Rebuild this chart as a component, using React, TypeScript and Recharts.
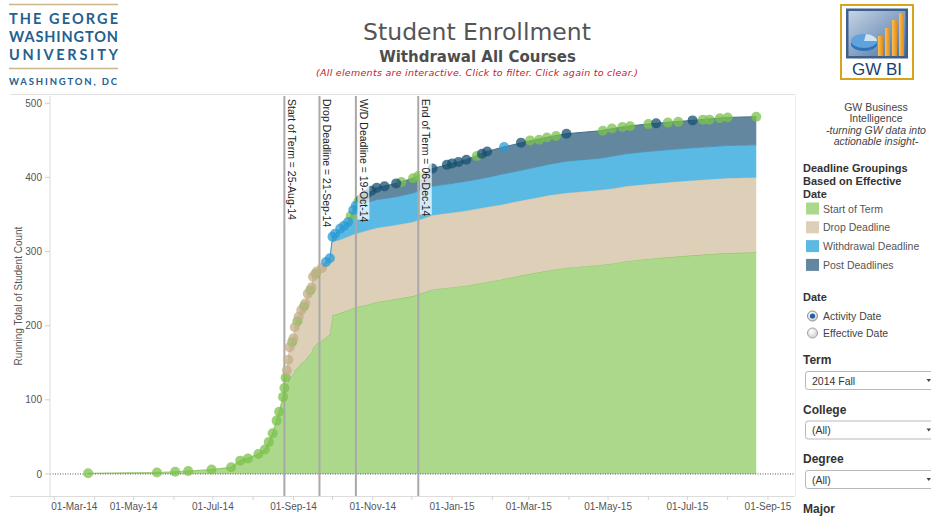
import React from "react";
import { ComposedChart, Area, Scatter, XAxis, YAxis, ReferenceLine } from "recharts";

// activity dates where the stacked running totals change
const areaDates = [
  "2014-03-27", "2014-05-19", "2014-06-02", "2014-06-12", "2014-06-30", "2014-07-15", "2014-07-22", "2014-07-28",
  "2014-08-05", "2014-08-10", "2014-08-13", "2014-08-16", "2014-08-19", "2014-08-21", "2014-08-24", "2014-08-25",
  "2014-08-27", "2014-08-28", "2014-08-29", "2014-09-01", "2014-09-02", "2014-09-05", "2014-09-07", "2014-09-10",
  "2014-09-12", "2014-09-15", "2014-09-16", "2014-09-19", "2014-09-23", "2014-09-26", "2014-09-29", "2014-10-01",
  "2014-10-07", "2014-10-13", "2014-10-17", "2014-10-21", "2014-10-27", "2014-11-04", "2014-11-19", "2014-12-02",
  "2014-12-17", "2015-01-12", "2015-01-28", "2015-02-07", "2015-02-24", "2015-03-17", "2015-03-30", "2015-04-25",
  "2015-05-05", "2015-05-15", "2015-05-31", "2015-06-20", "2015-07-05", "2015-07-31", "2015-08-23",
];

// running totals per deadline grouping (null = grouping not started yet)
const startOfTerm = [
  1, 2, 3, 4, 6, 9, 18, 21, 27, 33, 43, 55, 72, 84, 104, 116,
  120, 126, 129, 135, 140, 145, 149, 153, 158, 164, 170, 176, 180, 184, 188, 214,
  217, 221, 224, 226, 228, 232, 236, 240, 249, 254, 259, 262, 268, 275, 278, 282,
  284, 287, 290, 293, 295, 298, 299,
];
const dropDeadline = [
  null, null, null, null, null, null, null, null, null, null, null, null, null, null, 0, 2,
  20, 28, 42, 48, 58, 67, 72, 77, 85, 88, 96, 97, 98, 99, 99, 99,
  99, 99, 99, 99, 100, 100, 100, 100, 100, 101, 101, 101, 101, 101, 101, 101,
  101, 101, 101, 101, 101, 101, 101,
];
const withdrawalDeadline = [
  null, null, null, null, null, null, null, null, null, null, null, null, null, null, null, null,
  null, null, null, null, null, null, null, null, null, null, null, null, 0, 3, 4, 7,
  15, 20, 33, 37, 38, 38, 38, 39, 39, 40, 40, 41, 41, 42, 43, 43,
  44, 44, 44, 44, 44, 44, 44,
];
const postDeadlines = [
  null, null, null, null, null, null, null, null, null, null, null, null, null, null, null, null,
  null, null, null, null, null, null, null, null, null, null, null, null, null, null, null, null,
  null, null, 0, 6, 11, 16, 18, 20, 24, 29, 35, 36, 37, 37, 37, 37,
  37, 37, 37, 37, 37, 38, 38,
];

// circles on the running total line, coloured by grouping
const dotDates = [
  "2014-03-27", "2014-05-19", "2014-06-02", "2014-06-12", "2014-06-30", "2014-07-15", "2014-07-22", "2014-07-28",
  "2014-08-05", "2014-08-10", "2014-08-13", "2014-08-16", "2014-08-19", "2014-08-21", "2014-08-24", "2014-08-25",
  "2014-08-26", "2014-08-31", "2014-09-04", "2014-09-09", "2014-09-14", "2014-09-18",
  "2014-08-27", "2014-08-28", "2014-08-29", "2014-09-01", "2014-09-02", "2014-09-05", "2014-09-07", "2014-09-10",
  "2014-09-12", "2014-09-15", "2014-09-16", "2014-09-19", "2014-09-23",
  "2014-09-26", "2014-09-29", "2014-10-01", "2014-10-03", "2014-10-07", "2014-10-10", "2014-10-13", "2014-10-17", "2014-10-19",
  "2014-10-15", "2014-10-21",
  "2014-10-23", "2014-10-25", "2014-10-27", "2014-10-31", "2014-11-04", "2014-11-10", "2014-11-19",
  "2014-11-23", "2014-12-02", "2014-12-06",
  "2014-12-17", "2014-12-28", "2015-01-01", "2015-01-06", "2015-01-12",
  "2015-01-20", "2015-01-24", "2015-01-28", "2015-02-10", "2015-02-23",
  "2015-03-02", "2015-03-09", "2015-03-15", "2015-03-22", "2015-03-30",
  "2015-04-27", "2015-05-04", "2015-05-12", "2015-05-18", "2015-06-01", "2015-06-07",
  "2015-06-16", "2015-06-24", "2015-07-05", "2015-07-13", "2015-07-18", "2015-07-26", "2015-08-01", "2015-08-23",
];
const dotTotals = [
  1, 2, 3, 4, 6, 9, 18, 21,
  27, 33, 43, 55, 72, 84, 104, 116,
  130, 178, 206, 226, 248, 270,
  140, 154, 171, 183, 198, 212, 221, 230,
  243, 252, 266, 273, 278,
  286, 291, 320, 324, 331, 335, 340, 356, 362,
  348, 368,
  371, 374, 377, 382, 386, 388, 392,
  394, 399, 402,
  412, 417, 419, 421, 424,
  429, 432, 435, 441, 447,
  450, 451, 454, 456, 459,
  463, 466, 468, 469, 472, 473,
  474, 475, 477, 478, 478, 480, 481, 482,
];
// 0 start of term, 1 drop, 2 withdrawal, 3 post deadlines
const dotGroups = [
  0, 0, 0, 0, 0, 0, 0, 0,
  0, 0, 0, 0, 0, 0, 0, 0,
  0, 0, 0, 0, 0, 0,
  1, 1, 1, 1, 1, 1, 1, 1,
  1, 1, 1, 1, 1,
  2, 2, 2, 2, 2, 2, 2, 2, 2,
  0, 0,
  3, 3, 3, 3, 3, 3, 3,
  0, 0, 0,
  3, 3, 3, 3, 3,
  0, 3, 3, 2, 3,
  0, 0, 0, 0, 3,
  0, 0, 0, 0, 0, 3,
  0, 0, 3, 0, 0, 0, 0, 0,
];

const deadlineDates = ["2014-08-25", "2014-09-21", "2014-10-19", "2014-12-06"];
const deadlineLabels = [
  "Start of Term = 25-Aug-14",
  "Drop Deadline = 21-Sep-14",
  "W/D Deadline = 19-Oct-14",
  "End of Term = 06-Dec-14",
];
const yTicks = [0, 100, 200, 300, 400, 500];
const groupNames = ["Start of Term", "Drop Deadline", "Withdrawal Deadline", "Post Deadlines"];

const FONT = "'Liberation Sans', Arial, sans-serif";
const TITLE_FONT = "'DejaVu Sans', Verdana, sans-serif";
const areaFill = ["#acd88b", "#ddcfb8", "#5bbae3", "#62879f"];
const areaEdge = ["#96c86f", "#d3c3a7", "#3d9dcf", "#466f8a"];
const dotFill = ["#7bc24b", "#c3ae89", "#2b9bd1", "#175070"];

const BASE = Date.UTC(2014, 2, 1);
const DAY = 86400000;
const MONTHS = ["Jan", "Feb", "Mar", "Apr", "May", "Jun", "Jul", "Aug", "Sep", "Oct", "Nov", "Dec"];

function toDay(s: string) {
  const [y, m, d] = s.split("-").map(Number);
  return Math.round((Date.UTC(y, m - 1, d) - BASE) / DAY);
}

function fmtDay(day: number) {
  const dt = new Date(BASE + day * DAY);
  const dd = String(dt.getUTCDate()).padStart(2, "0");
  return `${dd}-${MONTHS[dt.getUTCMonth()]}-${String(dt.getUTCFullYear()).slice(2)}`;
}

const monthTicks: number[] = [];
for (let i = 0; i <= 18; i++) monthTicks.push(Math.round((Date.UTC(2014, 2 + i, 1) - BASE) / DAY));

const rows = areaDates.map((d, i) => ({
  day: toDay(d),
  sot: startOfTerm[i],
  drop: dropDeadline[i],
  wd: withdrawalDeadline[i],
  post: postDeadlines[i],
}));

const dots = dotDates.map((d, i) => ({ day: toDay(d), total: dotTotals[i], g: dotGroups[i] }));
const dotSets = [0, 1, 2, 3].map((g) => dots.filter((p) => p.g === g));

function XTick(props: any) {
  const { x, y, payload, index } = props;
  if (index % 2 !== 0) return null;
  const first = index === 0;
  return (
    <text x={first ? x - 3 : x} y={y} dy="0.71em" textAnchor={first ? "start" : "middle"}
      fontSize={10} fontFamily={FONT} fill="#555">
      {fmtDay(payload.value)}
    </text>
  );
}

function DeadlineLabel({ viewBox, text }: any) {
  const x = viewBox.x;
  const y = viewBox.y;
  const len = text.length * 4.9 + 5;
  return (
    <g>
      <rect x={x + 1.5} y={y + 1} width={12} height={len} fill="#fff" fillOpacity={0.72} />
      <text transform={`translate(${x + 4},${y + 3}) rotate(90)`} fontSize={10.5} fontFamily={FONT} fill="#222">
        {text}
      </text>
    </g>
  );
}

const dotShape = (color: string) => (p: any) =>
  <circle cx={p.cx} cy={p.cy} r={5} fill={color} fillOpacity={0.75} />;

function Decor() {
  return (
    <svg width={931} height={519} style={{ position: "absolute", left: 0, top: 0 }}>
      <defs>
        <linearGradient id="biBg" x1="0" y1="0" x2="1" y2="1">
          <stop offset="0%" stopColor="#c4d4e6" />
          <stop offset="100%" stopColor="#4d72a0" />
        </linearGradient>
        <linearGradient id="biBar" x1="0" y1="0" x2="1" y2="0">
          <stop offset="0%" stopColor="#f7c15a" />
          <stop offset="100%" stopColor="#e58a14" />
        </linearGradient>
        <radialGradient id="radioOff" cx="0.4" cy="0.35" r="0.7">
          <stop offset="0%" stopColor="#ffffff" />
          <stop offset="100%" stopColor="#cfcfcf" />
        </radialGradient>
      </defs>

      {/* university logo */}
      <line x1={9} x2={118} y1={4.5} y2={4.5} stroke="#c9b68c" strokeWidth={1.5} />
      <g fontFamily="Lato, 'Open Sans', sans-serif" fontWeight={700} fill="#24608e">
        <text x={9} y={23.5} fontSize={14.5} textLength={109} lengthAdjust="spacing">THE GEORGE</text>
        <text x={9} y={41.5} fontSize={14.5} textLength={109} lengthAdjust="spacing">WASHINGTON</text>
        <text x={9} y={59.5} fontSize={14.5} textLength={109} lengthAdjust="spacing">UNIVERSITY</text>
        <text x={9} y={85} fontSize={9.5} textLength={108} lengthAdjust="spacing">WASHINGTON, DC</text>
      </g>
      <line x1={9} x2={118} y1={68.5} y2={68.5} stroke="#c9b68c" strokeWidth={1.5} />

      {/* titles */}
      <text x={477} y={39.5} textAnchor="middle" fontFamily={TITLE_FONT} fontSize={23.5} fill="#555">
        Student Enrollment
      </text>
      <text x={477.5} y={61.5} textAnchor="middle" fontFamily={TITLE_FONT} fontWeight="bold" fontSize={15} fill="#4d4d4d">
        Withdrawal All Courses
      </text>
      <text x={477} y={75.5} textAnchor="middle" fontFamily={TITLE_FONT} fontStyle="italic" fontSize={9.5}
        fill="#c4202f" textLength={322} lengthAdjust="spacing">
        (All elements are interactive. Click to filter. Click again to clear.)
      </text>

      {/* GW BI badge */}
      <rect x={841} y={5} width={72} height={74} fill="#fff" stroke="#d7a51c" strokeWidth={2} />
      <rect x={846} y={8.5} width={62} height={50} fill="#3c5f8c" />
      <rect x={848.5} y={11} width={57} height={45} fill="url(#biBg)" />
      <rect x={878} y={36} width={5} height={20} fill="url(#biBar)" />
      <rect x={885} y={28} width={5} height={28} fill="url(#biBar)" />
      <rect x={892} y={20} width={5} height={36} fill="url(#biBar)" />
      <rect x={899} y={13} width={5} height={43} fill="url(#biBar)" />
      <ellipse cx={864} cy={44} rx={13} ry={7} fill="#2f72b8" />
      <ellipse cx={864} cy={41} rx={13} ry={7} fill="#5fa2dc" />
      <path d="M864 41 L877 41 A13 7 0 0 0 866 34 Z" fill="#cfe3f5" />
      <text x={877} y={75} textAnchor="middle" fontFamily={FONT} fontSize={17} fill="#1a3f73">GW BI</text>

      {/* chart frame */}
      <line x1={10} x2={795} y1={94.5} y2={94.5} stroke="#e2e2e2" />
      <line x1={10} x2={795} y1={496.5} y2={496.5} stroke="#dcdcdc" />
      <line x1={795.5} x2={795.5} y1={95} y2={496} stroke="#ececec" />
      <text transform="translate(21.5,296) rotate(-90)" textAnchor="middle" fontFamily={FONT} fontSize={10} fill="#555">
        Running Total of Student Count
      </text>

      {/* right panel */}
      <g fontFamily={FONT} fontSize={10.5} fill="#444" textAnchor="middle">
        <text x={876} y={111}>GW Business</text>
        <text x={876} y={122}>Intelligence</text>
        <text x={876} y={134} fontStyle="italic">-turning GW data into</text>
        <text x={876} y={145} fontStyle="italic">actionable insight-</text>
      </g>
      <g fontFamily={FONT} fontSize={11} fontWeight="bold" fill="#333">
        <text x={803} y={172}>Deadline Groupings</text>
        <text x={803} y={185}>Based on Effective</text>
        <text x={803} y={198}>Date</text>
        <text x={803} y={301}>Date</text>
      </g>
      {groupNames.map((name, i) => (
        <g key={name}>
          <rect x={806} y={202.5 + i * 18.8} width={13} height={12} fill={areaFill[i]} />
          <text x={823} y={212.5 + i * 18.8} fontFamily={FONT} fontSize={10.5} fill="#555">{name}</text>
        </g>
      ))}

      <circle cx={812.5} cy={316} r={5} fill="url(#radioOff)" stroke="#8c8c8c" />
      <circle cx={812.5} cy={316} r={2.6} fill="#1f5fa6" />
      <text x={823} y={320} fontFamily={FONT} fontSize={10.5} fill="#444">Activity Date</text>
      <circle cx={812.5} cy={333} r={5} fill="url(#radioOff)" stroke="#a0a0a0" />
      <text x={823} y={337} fontFamily={FONT} fontSize={10.5} fill="#444">Effective Date</text>

      {[["Term", "2014 Fall"], ["College", "(All)"], ["Degree", "(All)"]].map(([label, value], i) => (
        <g key={label}>
          <text x={803} y={364 + i * 49.5} fontFamily={FONT} fontSize={12} fontWeight="bold" fill="#333">{label}</text>
          <rect x={805.5} y={371.5 + i * 49.5} width={140} height={18} rx={2.5} fill="#fff" stroke="#b9b9b9" />
          <text x={812} y={384.5 + i * 49.5} fontFamily={FONT} fontSize={10.5} fill="#333">{value}</text>
          <path d={`M926.5 ${379 + i * 49.5} L931 ${379 + i * 49.5} L928.75 ${382 + i * 49.5} Z`} fill="#444" />
        </g>
      ))}
      <text x={803} y={513} fontFamily={FONT} fontSize={12} fontWeight="bold" fill="#333">Major</text>
    </svg>
  );
}

export default function App() {
  return (
    <div style={{ position: "absolute", left: 0, top: 0, width: 931, height: 519, background: "#fff", overflow: "hidden" }}>
      <Decor />
      <div style={{ position: "absolute", left: 0, top: 0 }}>
        <ComposedChart width={931} height={519} data={rows} margin={{ top: 96, right: 136, bottom: 0, left: 0 }}>
          <XAxis
            type="number"
            dataKey="day"
            domain={[-3.3, 569.8]}
            allowDataOverflow
            ticks={monthTicks}
            interval={0}
            height={23}
            tickSize={4}
            tickMargin={3}
            axisLine={false}
            tickLine={{ stroke: "#d4d4d4" }}
            tick={(p: any) => <XTick {...p} />}
          />
          <YAxis
            type="number"
            domain={[-29.7, 509.9]}
            allowDataOverflow
            ticks={yTicks}
            interval={0}
            width={50}
            tickSize={5}
            tickMargin={3}
            axisLine={{ stroke: "#dcdcdc" }}
            tickLine={{ stroke: "#d0d0d0" }}
            tick={{ fontSize: 10, fill: "#555", fontFamily: FONT }}
          />
          <Area type="linear" dataKey="sot" stackId="g" fill={areaFill[0]} fillOpacity={1} stroke={areaEdge[0]} strokeWidth={1.2} isAnimationActive={false} />
          <Area type="linear" dataKey="drop" stackId="g" fill={areaFill[1]} fillOpacity={1} stroke={areaEdge[1]} strokeWidth={1} isAnimationActive={false} />
          <Area type="linear" dataKey="wd" stackId="g" fill={areaFill[2]} fillOpacity={1} stroke={areaEdge[2]} strokeWidth={1} isAnimationActive={false} />
          <Area type="linear" dataKey="post" stackId="g" fill={areaFill[3]} fillOpacity={1} stroke={areaEdge[3]} strokeWidth={1} isAnimationActive={false} />
          <ReferenceLine y={0} stroke="#555" strokeDasharray="1 1.5" />
          {deadlineDates.map((d) => (
            <ReferenceLine key={d} x={toDay(d)} stroke="#a9a9a9" strokeWidth={2} />
          ))}
          {dotSets.map((set, g) => (
            <Scatter key={g} data={set} dataKey="total" shape={dotShape(dotFill[g])} isAnimationActive={false} />
          ))}
          {deadlineDates.map((d, i) => (
            <ReferenceLine
              key={`label-${d}`}
              x={toDay(d)}
              stroke="#a9a9a9"
              strokeOpacity={0}
              {...({ zIndex: 3000 } as any)}
              label={(p: any) => <DeadlineLabel viewBox={p.viewBox} text={deadlineLabels[i]} />}
            />
          ))}
        </ComposedChart>
      </div>
    </div>
  );
}
